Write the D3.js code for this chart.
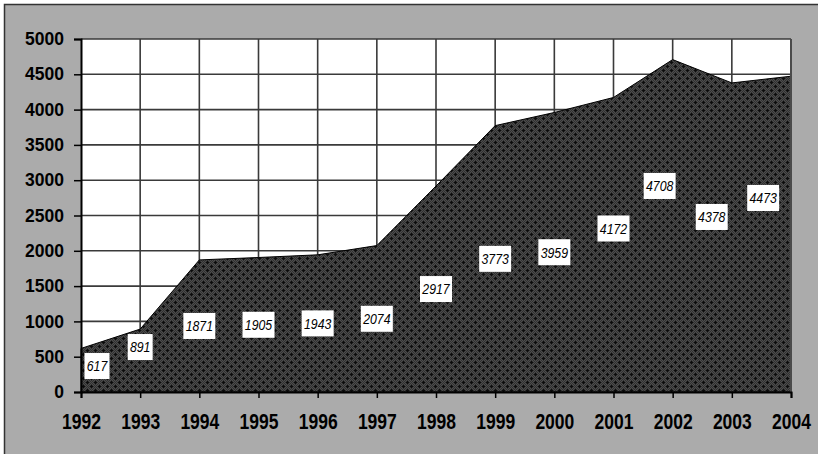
<!DOCTYPE html>
<html><head><meta charset="utf-8">
<script src="https://cdn.jsdelivr.net/npm/d3@7"></script>
<style>body{margin:0;background:#fff}svg{display:block}</style>
</head><body><svg id="c" width="818" height="454"></svg>
<script>
const years = [1992,1993,1994,1995,1996,1997,1998,1999,2000,2001,2002,2003,2004];
const values = [617,891,1871,1905,1943,2074,2917,3773,3959,4172,4708,4378,4473];
// where each data label sits, in data units (category position, value level)
const labelAt = [1992.27,1993,1994,1995,1996,1997,1998,1999,2000,2001,2001.78,2002.66,2003.53];
const labelLevel = [368,637,935,952,972,1037,1458,1886,1980,2316,2918,2479,2748];
const yTicks = [0,500,1000,1500,2000,2500,3000,3500,4000,4500,5000];

const svg = d3.select("#c");
const defs = svg.append("defs");
const pat = defs.append("pattern").attr("id","tex").attr("patternUnits","userSpaceOnUse")
  .attr("width",8).attr("height",8);
pat.append("rect").attr("width",8).attr("height",8).attr("fill","#303030");
for(let i=0;i<8;i++)for(let j=0;j<8;j++){ if((i+j)%2===0) pat.append("rect").attr("x",i).attr("y",j).attr("width",1).attr("height",1).attr("fill","#4c4c4c"); }
pat.append("rect").attr("x",3).attr("y",1).attr("width",1).attr("height",3).attr("fill","#0c0c0c");
pat.append("rect").attr("x",2).attr("y",2).attr("width",3).attr("height",1).attr("fill","#0c0c0c");
pat.append("rect").attr("x",7).attr("y",5).attr("width",1).attr("height",3).attr("fill","#0c0c0c");
pat.append("rect").attr("x",6).attr("y",6).attr("width",2).attr("height",1).attr("fill","#0c0c0c");
pat.append("rect").attr("x",0).attr("y",6).attr("width",1).attr("height",1).attr("fill","#0c0c0c");

// chart background
svg.append("rect").attr("x",4.5).attr("y",4.5).attr("width",830).attr("height",470)
  .attr("fill","#ababab").attr("stroke","#333").attr("stroke-width",1.5);

const x = d3.scaleLinear().domain([1992,2004]).range([81,791]);
const y = d3.scaleLinear().domain([0,5000]).range([392,39]);

// plot area
svg.append("rect").attr("x",x(1992)).attr("y",y(5000)).attr("width",x(2004)-x(1992)).attr("height",y(0)-y(5000))
  .attr("fill","#fff");
const grid = svg.append("g").attr("stroke","#3a3a3a").attr("stroke-width",1.6);
grid.selectAll("line.h").data(yTicks.slice(1)).join("line")
  .attr("x1",x(1992)).attr("x2",x(2004)).attr("y1",d=>y(d)).attr("y2",d=>y(d));
grid.selectAll("line.v").data(years.slice(1)).join("line")
  .attr("x1",d=>x(d)).attr("x2",d=>x(d)).attr("y1",y(0)).attr("y2",y(5000));

// area
const area = d3.area().x((d,i)=>x(years[i])).y0(y(0)).y1(d=>y(d));
svg.append("path").datum(values).attr("d",area).attr("fill","url(#tex)")
  .attr("stroke","#000").attr("stroke-width",1);

// plot border (right side)
svg.append("line").attr("x1",x(2004)).attr("x2",x(2004)).attr("y1",y(5000)).attr("y2",y(0))
  .attr("stroke","#4a4a4a").attr("stroke-width",2);

// axes
const ax = svg.append("g").attr("transform",`translate(${x(1992)},0)`)
  .call(d3.axisLeft(y).tickValues(yTicks).tickSize(7).tickPadding(10).tickFormat(d3.format("d")));
const bx = svg.append("g").attr("transform",`translate(0,${y(0)})`)
  .call(d3.axisBottom(x).tickValues(years).tickSize(6).tickPadding(8).tickFormat(d3.format("d")));
[ax,bx].forEach(g=>{
  g.select(".domain").attr("stroke","#000").attr("stroke-width",2);
  g.selectAll(".tick line").attr("stroke","#000").attr("stroke-width",1.5);
  g.selectAll("text").attr("fill","#000").attr("font-family","Arial, 'Liberation Sans', sans-serif")
   .attr("font-weight","bold").attr("font-size","17.5px");
});
bx.selectAll(".tick text").attr("dy",null).attr("y",0)
  .attr("transform","translate(0,37) scale(1,1.25)");

// data labels
const lab = svg.append("g").selectAll("g").data(values).join("g")
  .attr("transform",(d,i)=>`translate(${x(labelAt[i])},${y(labelLevel[i])})`);
lab.append("rect").attr("x",d=>-(String(d).length*7+4)/2).attr("y",-13)
  .attr("width",d=>String(d).length*7+4).attr("height",26).attr("fill","#fff");
lab.append("text").text(d=>d).attr("text-anchor","middle").attr("dy","0.36em")
  .attr("transform","scale(0.82,1)")
  .attr("font-family","Arial, 'Liberation Sans', sans-serif").attr("font-style","italic")
  .attr("font-size","15px").attr("fill","#000");
</script></body></html>
